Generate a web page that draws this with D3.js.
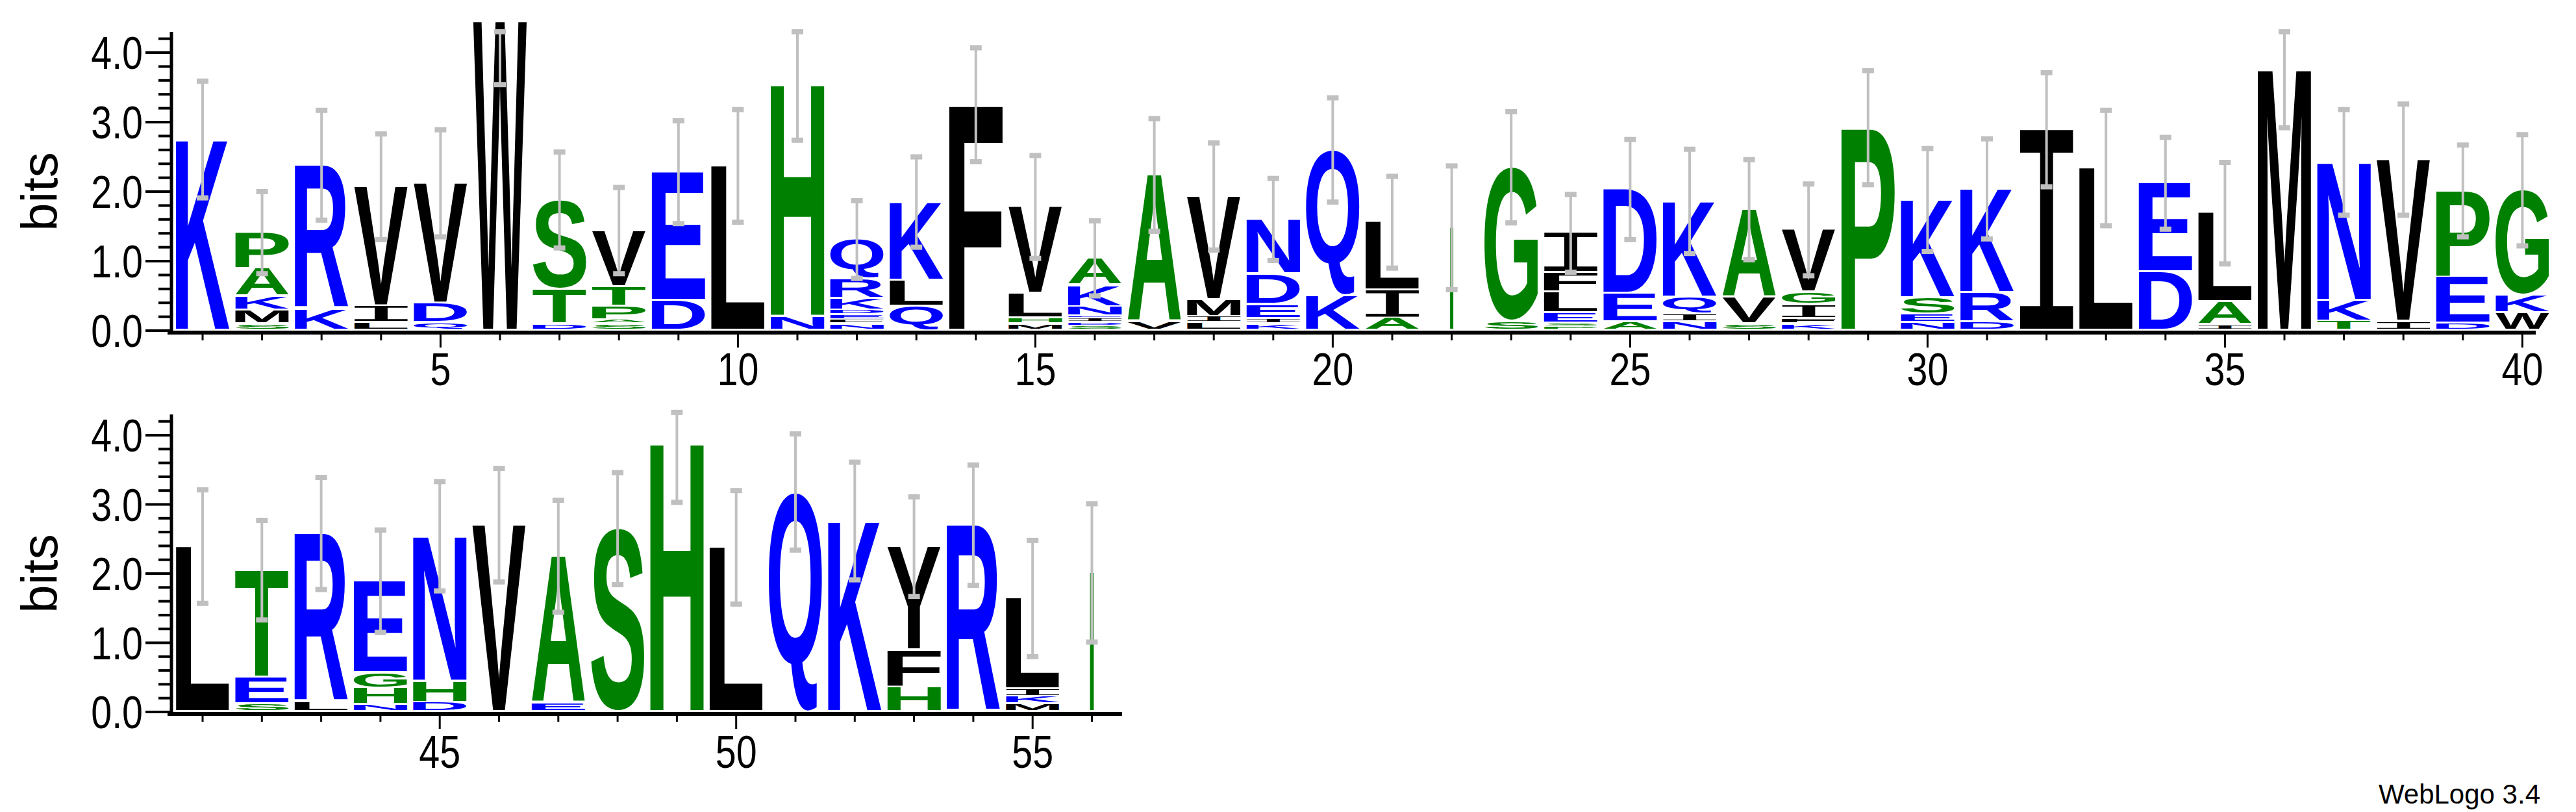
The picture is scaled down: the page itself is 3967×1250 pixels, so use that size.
<!DOCTYPE html>
<html><head><meta charset="utf-8">
<script src="https://cdn.jsdelivr.net/npm/d3@7"></script>
<style>body{margin:0;background:#fff}</style>
</head><body>
<script>
// letters per position, top to bottom, with heights in bits
const letters = [
  "K","PAKMS","RK","VIL","VDQ","W","STD","VTPAS","ED","L","HN","QRKDEFN",
  "KLQ","F","VLHM","AKNEIDS","AV","VMIL","NDEIK","QK","LIA","G","GS","IFLESP","DEA","KQIN",
  "AVS","VGIFK","P","KSEN","KRD","I","L","ED","LAI","M","NKT","VI","PED","GKW",
  "L","TES","RL","EGHN","NHD","V","AE","S","H","L","Q","K","YFH","R","LIKM","G"
];
const heights = [
  [2.75],[0.52,0.40,0.20,0.20,0.09],[2.07,0.31],[1.72,0.24,0.11],[1.73,0.28,0.11],[4.45],
  [1.29,0.50,0.09],[0.81,0.28,0.20,0.06,0.09],[1.85,0.43],[2.37],[3.35,0.20],
  [0.57,0.28,0.17,0.07,0.07,0.06,0.09],
  [1.13,0.37,0.35],[3.25],[1.25,0.35,0.09,0.09],[0.39,0.31,0.13,0.04,0.06,0.05,0.06],
  [2.12,0.12],[1.49,0.24,0.09,0.11],[0.79,0.44,0.20,0.08,0.09],[2.10,0.50],[0.98,0.40,0.18],
  [1.48],[2.22,0.13],[0.57,0.28,0.30,0.15,0.05,0.05],[1.50,0.41,0.12],[1.38,0.25,0.11,0.12],
  [1.27,0.38,0.09],[0.90,0.18,0.20,0.08,0.09],[2.92],[1.41,0.24,0.12,0.11],[1.50,0.42,0.12],
  [2.89],[2.34],[1.28,0.84],[1.28,0.33,0.08],[3.77],[1.99,0.30,0.13],[2.33,0.13],
  [1.24,0.67,0.10],[1.52,0.25,0.25],
  [2.39],[1.55,0.39,0.11],[2.44,0.14],[1.33,0.22,0.24,0.10],[2.10,0.31,0.13],[2.70],
  [2.13,0.12],[2.65],[3.89],[2.38],[3.18],[2.76],[1.50,0.54,0.35],[2.70],[1.31,0.11,0.11,0.11],[2.01]
];
const errHalf = [
  0.84,0.59,0.79,0.76,0.77,0.38,0.69,0.62,0.74,0.81,0.78,0.56,
  0.65,0.82,0.74,0.54,0.81,0.77,0.59,0.75,0.66,0.89,0.80,0.56,0.72,0.75,
  0.72,0.66,0.82,0.74,0.72,0.82,0.83,0.66,0.73,0.69,0.76,0.80,0.66,0.80,
  0.82,0.72,0.81,0.74,0.79,0.82,0.81,0.81,0.65,0.82,0.84,0.85,0.72,0.87,0.84,1.00
];
// error bar midpoints that differ from the stack height (capped near log2(20))
const errMidOverride = {6: 3.92, 11: 3.52, 36: 3.61, 49: 3.68};
const colWidth = {22: 0.06, 56: 0.07};   // fraction of full column width
const yTicks = [0, 1, 2, 3, 4];

const green = "A G S T H P C".split(" ");
const blue = "K R D E N Q".split(" ");
const color = c => green.includes(c) ? "#008000" : blue.includes(c) ? "#0000ff" : "#000000";

const W = 3967, H = 1250;
const svg = d3.select("body").append("svg").attr("width", W).attr("height", H);

// measure ink bounds of glyphs
const ctx = document.createElement("canvas").getContext("2d");
const FS = 200;
const fontFor = c => c === "I" ? "'DejaVu Sans Mono'" : "'Liberation Sans', Arial";
const weightFor = c => c === "I" ? "normal" : "bold";
function ink(c) {
  ctx.font = `${weightFor(c)} ${FS}px ${fontFor(c)}`;
  const m = ctx.measureText(c);
  return {l: m.actualBoundingBoxLeft, r: m.actualBoundingBoxRight, a: m.actualBoundingBoxAscent, d: m.actualBoundingBoxDescent};
}

const panels = [
  {first: 1, last: 40, x0: 312, step: 91.6, base: 509, bit: 107, axisEnd: 3905, labelY: 568},
  {first: 41, last: 56, x0: 312, step: 91.3, base: 1096, bit: 106.5, axisEnd: 1728, labelY: 1157}
];
const tickFont = "'Liberation Sans Narrow', 'Liberation Sans'";

panels.forEach(p => {
  const x = d3.scaleLinear().domain([p.first, p.last]).range([p.x0, p.x0 + (p.last - p.first) * p.step]);
  const y = d3.scaleLinear().domain([0, 4]).range([p.base, p.base - 4 * p.bit]);
  const g = svg.append("g");

  const positions = d3.range(p.first, p.last + 1);
  positions.forEach(pos => {
    const i = pos - 1;
    const frac = colWidth[pos] || 1;
    const w = p.step * 0.9 * frac;
    const cx = x(pos);
    let acc = 0;
    const ls = letters[i].split("").map((c, k) => ({c, h: heights[i][k]})).reverse();
    ls.forEach(({c, h}) => {
      const yb = y(acc), yt = y(acc + h);
      acc += h;
      const hh = Math.max(yb - yt - 3, 0.5);
      if (frac < 1) {
        g.append("rect").attr("x", cx - w / 2).attr("y", yt).attr("width", w).attr("height", hh).attr("fill", color(c));
        return;
      }
      const b = ink(c);
      const sx = w / (b.l + b.r), sy = hh / (b.a + b.d);
      g.append("text")
        .attr("transform", `translate(${cx - w / 2},${yt}) scale(${sx},${sy}) translate(${b.l},${b.a})`)
        .attr("font-family", fontFor(c)).attr("font-weight", weightFor(c)).attr("font-size", FS)
        .attr("fill", color(c)).text(c);
    });
  });

  // error bars
  positions.forEach(pos => {
    const i = pos - 1;
    const mid = errMidOverride[pos] ?? d3.sum(heights[i]);
    const e = errHalf[i], cx = x(pos);
    g.append("line").attr("x1", cx).attr("x2", cx).attr("y1", y(mid - e)).attr("y2", y(mid + e))
      .attr("stroke", "#c0c0c0").attr("stroke-width", 4);
    [mid - e, mid + e].forEach(v => g.append("rect").attr("x", cx - 9).attr("y", y(v) - 4)
      .attr("width", 18).attr("height", 8).attr("fill", "#c0c0c0"));
  });

  // x axis
  g.append("line").attr("x1", 258).attr("x2", p.axisEnd).attr("y1", p.base + 3).attr("y2", p.base + 3)
    .attr("stroke", "#000").attr("stroke-width", 6);
  positions.forEach(pos => {
    const major = pos % 5 === 0;
    g.append("line").attr("x1", x(pos)).attr("x2", x(pos)).attr("y1", p.base + 3).attr("y2", p.base + (major ? 26 : 15))
      .attr("stroke", "#000").attr("stroke-width", 3);
    if (major) g.append("text").attr("transform", `translate(${x(pos)},${p.labelY}) scale(0.82,1)`).attr("dy", "0.36em")
      .attr("text-anchor", "middle").attr("font-family", tickFont)
      .attr("font-size", 70).text(pos);
  });

  // y axis
  g.append("line").attr("x1", 264).attr("x2", 264).attr("y1", p.base + 3).attr("y2", y(4.3))
    .attr("stroke", "#000").attr("stroke-width", 5);
  d3.range(0, 4.3, 0.2).forEach(v => {
    const major = Math.abs(v - Math.round(v)) < 1e-6;
    g.append("line").attr("x1", major ? 224 : 244).attr("x2", 264).attr("y1", y(v)).attr("y2", y(v))
      .attr("stroke", "#000").attr("stroke-width", 4);
  });
  yTicks.forEach(v => g.append("text").attr("transform", `translate(220,${y(v)}) scale(0.82,1)`).attr("dy", "0.36em")
    .attr("text-anchor", "end").attr("font-family", tickFont)
    .attr("font-size", 70).text(v.toFixed(1)));
  g.append("text").attr("transform", `translate(88,${y(2)}) rotate(-90)`).attr("text-anchor", "middle")
    .attr("font-family", "'Liberation Sans', Arial").attr("font-size", 78).text("bits");
});

svg.append("text").attr("x", 3912).attr("y", 1237).attr("text-anchor", "end")
  .attr("font-family", "'Liberation Sans', Arial").attr("font-size", 42).text("WebLogo 3.4");
</script>
</body></html>
